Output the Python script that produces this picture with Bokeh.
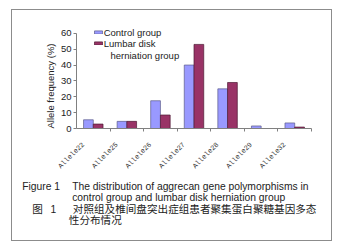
import math
from bokeh.plotting import figure
from bokeh.layouts import column
from bokeh.models import (ColumnDataSource, FixedTicker, Legend, LegendItem,
                          Label, Range1d, Title)
from bokeh.core.properties import value
from bokeh.embed import file_html
from bokeh.resources import INLINE

categories = ["Allele22", "Allele25", "Allele26", "Allele27", "Allele28", "Allele29", "Allele32"]
control = [5.5, 4.5, 17.5, 40.0, 25.0, 1.6, 3.5]
lumbar = [2.8, 4.5, 8.5, 53.0, 29.0, 0.0, 0.9]
y_ticks = [0, 10, 20, 30, 40, 50, 60]

series_names = ["Control group", "Lumbar disk"]
legend_extra = "herniation group"
y_title = "Allele frequency (%)"
caption_en_tag = "Figure 1"
caption_en = ["The distribution of aggrecan gene polymorphisms in",
              "control group and lumbar disk herniation group"]
caption_zh_tag = ["图", "1"]
caption_zh = ["对照组及椎间盘突出症组患者聚集蛋白聚糖基因多态", "性分布情况"]

# layout (canvas px)
BOX_L, BOX_T, BOX_R, BOX_B = 12, 10, 331, 240
FL, FR_AX, FB, FT_AX = 76, 311, 129, 33   # frame left, axis end, axis y, y=60 position
W = BOX_R - BOX_L
H1 = 165
H2 = (BOX_B - BOX_T) - H1

n = len(categories)
ymax = y_ticks[-1]
centers = [i + 0.5 for i in range(n)]
bw = 0.29
src = ColumnDataSource(dict(
    xc=[c - bw / 2 for c in centers],
    xl=[c + bw / 2 for c in centers],
    control=control, lumbar=lumbar))

frame_w = BOX_R - FL
frame_h = FB - BOX_T
x_end = n * frame_w / (FR_AX - FL)
y_end = ymax * frame_h / (FB - FT_AX)

p = figure(width=W, height=H1, output_backend="svg", toolbar_location=None,
           x_range=Range1d(0, x_end), y_range=Range1d(0, y_end),
           min_border_left=FL - BOX_L, min_border_right=0, min_border_top=0,
           min_border_bottom=H1 - frame_h, frame_align=False)
p.background_fill_color = "white"
p.border_fill_color = "white"
p.outline_line_color = None
p.xgrid.visible = False
p.ygrid.visible = False

r1 = p.vbar(x="xc", top="control", width=bw, source=src,
            fill_color="#9999FF", line_color="#5c5c8a", line_width=0.7)
r2 = p.vbar(x="xl", top="lumbar", width=bw, source=src,
            fill_color="#993366", line_color="#4d1a33", line_width=0.7)

# x axis: labels near category centres, ticks at category boundaries
ax = p.xaxis[0]
ax.bounds = (0, n)
label_pos = [i + 0.2 for i in range(n)]
ax.ticker = FixedTicker(ticks=label_pos, minor_ticks=list(range(1, n + 1)))
ax.major_label_overrides = {c: lab for c, lab in zip(label_pos, categories)}
ax.major_tick_out = 0
ax.major_tick_in = 0
ax.minor_tick_out = 3
ax.minor_tick_in = 0
ax.axis_line_color = "#808080"
ax.minor_tick_line_color = "#808080"
ax.major_label_orientation = math.pi / 4
ax.major_label_text_font = "Liberation Mono"
ax.major_label_text_font_size = "7px"
ax.major_label_text_color = "#333333"
ax.major_label_standoff = 12

ay = p.yaxis[0]
ay.bounds = (0, ymax)
ay.ticker = FixedTicker(ticks=y_ticks)
ay.minor_tick_line_color = None
ay.major_tick_out = 3
ay.major_tick_in = 0
ay.axis_line_color = "#808080"
ay.major_tick_line_color = "#808080"
ay.major_label_text_font = "Liberation Sans"
ay.major_label_text_font_size = "9.5px"
ay.major_label_text_color = "#222222"
ay.major_label_standoff = 2

p.add_layout(Title(text=y_title, align="left", offset=0, vertical_align="bottom",
                   standoff=4, text_font="Liberation Sans", text_font_style="normal",
                   text_font_size="9.5px", text_color="#222222"), "left")

legend = Legend(items=[LegendItem(label=series_names[0], renderers=[r1]),
                       LegendItem(label=series_names[1], renderers=[r2])],
                location=(92.7 - FL, FB - 49.5),
                padding=0, margin=0, spacing=0,
                glyph_width=10, glyph_height=4, label_standoff=1,
                label_height=11,
                label_text_font="Liberation Sans", label_text_font_size="9.5px",
                label_text_color="#222222",
                border_line_color=None, background_fill_alpha=0)
p.add_layout(legend, "center")
p.add_layout(Label(x=110 - FL, y=FB - 56, x_units="screen", y_units="screen",
                   text=legend_extra, text_font="Liberation Sans",
                   text_font_size="9.5px", text_color="#222222",
                   text_baseline="middle", text_align="left"))

# caption figure: data coords == canvas px
y2_top = BOX_T + H1
c = figure(width=W, height=H2, output_backend="svg", toolbar_location=None,
           x_range=Range1d(BOX_L, BOX_R), y_range=Range1d(y2_top + H2, y2_top),
           min_border=0, x_axis_type=None, y_axis_type=None, frame_align=False)
c.outline_line_color = None
c.xgrid.visible = False
c.ygrid.visible = False
c.background_fill_color = "white"
c.border_fill_color = "white"

en_x = [21.7, 71.7, 71.7, 50.0]
en_y = [186, 186, 196.7, 208.3]
c.text(x=en_x, y=en_y, text=[caption_en_tag, caption_en[0], caption_en[1], caption_zh_tag[1]],
       text_font=value("Liberation Sans"), text_font_size="10.3px",
       text_color="#222222", text_baseline="middle", text_align="left")
zh_x = [31.7, 72.3, 68.3]
zh_y = [208.3, 208.3, 219.3]
c.text(x=zh_x, y=zh_y, text=[caption_zh_tag[0], caption_zh[0], caption_zh[1]],
       text_font=value("Noto Sans CJK SC"), text_font_size="10.6px",
       text_color="#222222", text_baseline="middle", text_align="left")

lay = column(p, c, spacing=0, margin=(BOX_T, 343 - BOX_R, 250 - BOX_B, BOX_L),
             styles={"outline": "1.5px solid #8c8c8c"})

open("out.html", "w").write(file_html(lay, INLINE))
